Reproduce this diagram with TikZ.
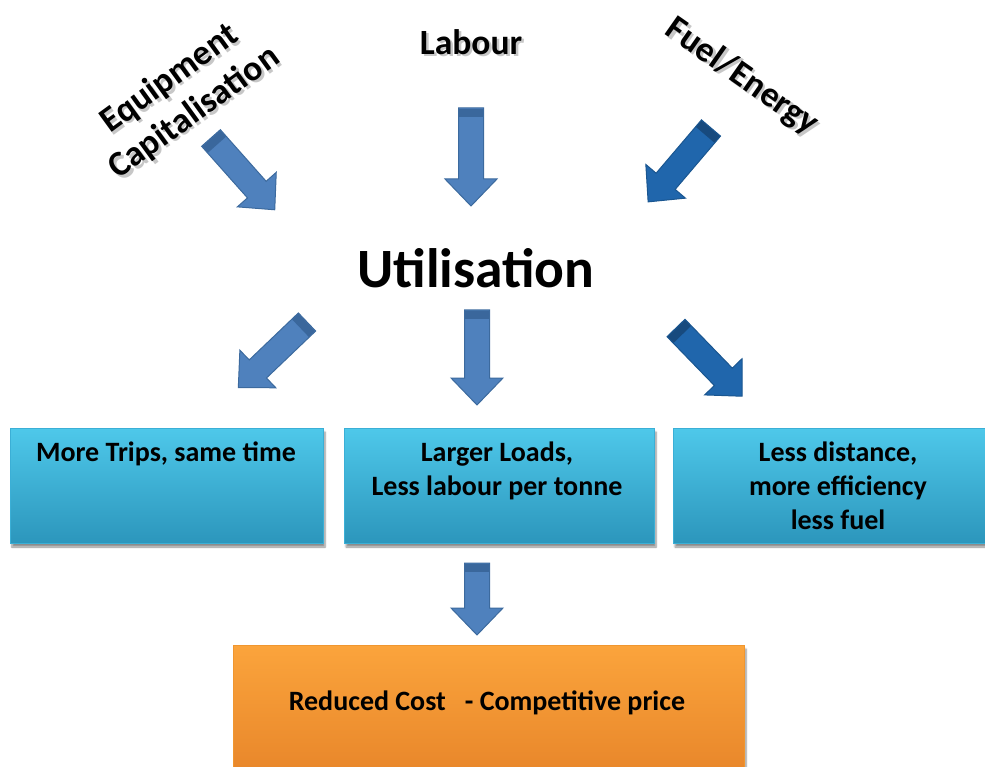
\documentclass[tikz,border=0pt]{standalone}
\usepackage{fontspec}
\setmainfont{Carlito}
\usetikzlibrary{shadows.blur}

\definecolor{arrowfill}{HTML}{4F81BD}
\definecolor{arrowline}{HTML}{3C6A9E}
\definecolor{arrowcap}{HTML}{3A679C}
\definecolor{darkfill}{HTML}{2066AC}
\definecolor{darkline}{HTML}{1A5690}
\definecolor{darkcap}{HTML}{174A7E}
\definecolor{boxtop}{HTML}{4EC8EA}
\definecolor{boxbot}{HTML}{2C96BC}
\definecolor{boxedge}{HTML}{3BAFD6}
\definecolor{orangetop}{HTML}{FBA43C}
\definecolor{orangebot}{HTML}{E8862A}
\definecolor{orangeedge}{HTML}{F0962F}

\tikzset{
  % block arrow pointing along local +x: #1 length, #2 fill, #3 outline, #4 tail cap
  pics/blockarrow/.style n args={4}{code={
    \fill[#2,draw=#3,line width=1pt,line join=miter]
      (0,-12.5) -- ({#1-27},-12.5) -- ({#1-27},-26) -- (#1,0)
      -- ({#1-27},26) -- ({#1-27},12.5) -- (0,12.5) -- cycle;
    \fill[#4] (0.6,-12) rectangle (9,12);
  }},
  title/.style={font=\fontsize{35.5}{42}\selectfont\bfseries, align=center, inner sep=0pt},
  titleshadow/.style={title, text=black, opacity=0.22},
  infobox/.style={draw=boxedge, line width=0.8pt, top color=boxtop, bottom color=boxbot,
    minimum height=115pt, inner sep=0pt,
    blur shadow={shadow xshift=2pt, shadow yshift=-4pt, shadow blur steps=6, shadow opacity=45}},
  resultbox/.style={draw=orangeedge, line width=0.8pt, top color=orangetop, bottom color=orangebot,
    inner sep=0pt,
    blur shadow={shadow xshift=2pt, shadow yshift=-4pt, shadow blur steps=6, shadow opacity=45}},
  boxtext/.style={font=\fontsize{28}{34}\selectfont\bfseries, align=center, inner sep=0pt, anchor=north},
}

\begin{document}
\begin{tikzpicture}[x=1pt, y=-1pt]
\useasboundingbox (0,0) rectangle (985,767);

% --- inputs (each title with a soft drop shadow underneath) ---
\node[titleshadow, rotate=36] (capS) at (184.5,98.5) {Equipment\\Capitalisation};
\node[title, rotate=36] (cap) at (182,96) {Equipment\\Capitalisation};
\node[titleshadow] (labS) at (473.5,44.5) {Labour};
\node[title] (lab) at (471,42) {Labour};
\node[titleshadow, rotate=-35] (fuelS) at (744.5,79.5) {Fuel/Energy};
\node[title, rotate=-35] (fuel) at (742,77) {Fuel/Energy};

\pic[rotate=-48.4] (a1) at (211,138) {blockarrow={96}{arrowfill}{arrowline}{arrowcap}};
\pic[rotate=-90] (a2) at (471,108) {blockarrow={98}{arrowfill}{arrowline}{arrowcap}};
\pic[rotate=-130.4] (a3) at (711,128) {blockarrow={97}{darkfill}{darkline}{darkcap}};

% --- centre ---
\node[font=\fontsize{55.5}{60}\selectfont\bfseries, inner sep=0pt] (util) at (476,268) {Utilisation};

\pic[rotate=-136.3] (b1) at (307,322) {blockarrow={95}{arrowfill}{arrowline}{arrowcap}};
\pic[rotate=-90] (b2) at (477,310) {blockarrow={95}{arrowfill}{arrowline}{arrowcap}};
\pic[rotate=-45.9] (b3) at (676,328) {blockarrow={95}{darkfill}{darkline}{darkcap}};

% --- outcomes ---
\node[infobox, minimum width=313pt] (box1) at (166.5,485.5) {};
\node[infobox, minimum width=310pt] (box2) at (499,485.5) {};
\node[infobox, minimum width=317pt] (box3) at (831.5,485.5) {};

\node[boxtext] (t1) at (166,442) {More Trips, same time};
\node[boxtext] (t2) at (497,442) {Larger Loads,\\Less labour per tonne};
\node[boxtext] (t3) at (838,442) {Less distance,\\more efficiency\\less fuel};

\pic[rotate=-90] (c1) at (477,563) {blockarrow={72}{arrowfill}{arrowline}{arrowcap}};

\node[resultbox, minimum width=511pt, minimum height=130pt] (res) at (488.5,710) {};
\node[font=\fontsize{28}{34}\selectfont\bfseries, inner sep=0pt] (rt) at (487,703) {Reduced Cost \ \ - Competitive price};
\end{tikzpicture}
\end{document}
